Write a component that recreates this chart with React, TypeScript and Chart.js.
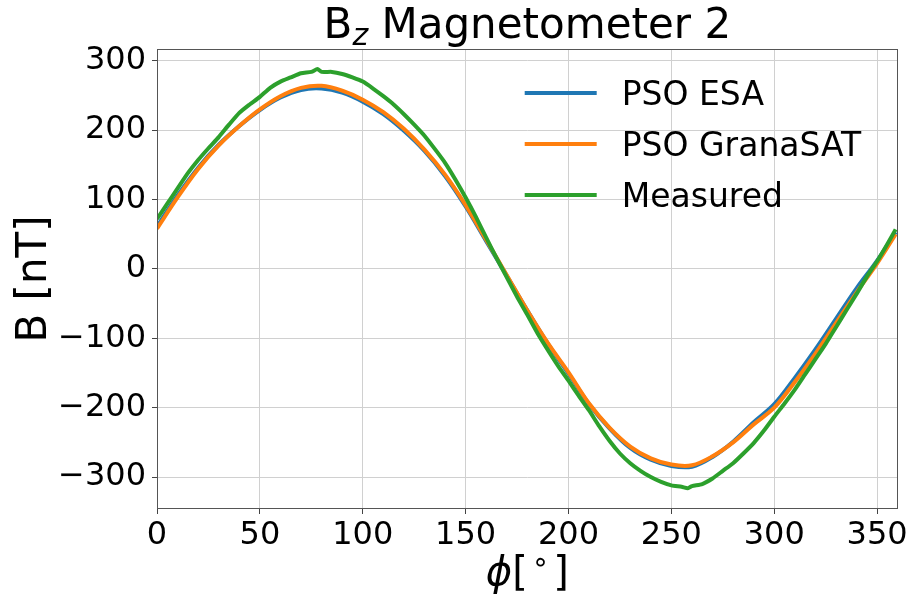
import React, { useEffect, useRef } from "react";
import { Chart, registerables } from "chart.js";

Chart.register(...registerables);

// ---- data ----
const phiModel = [0, 10, 20, 30, 40, 50, 60, 70, 80, 90, 100, 110, 120, 130, 140, 150, 160, 170, 180, 190, 200, 210, 220, 230, 240, 250, 260, 270, 280, 290, 300, 310, 320, 330, 340, 350, 359];
const psoEsa = [61, 106, 146, 179, 206, 229, 247, 258, 260, 254, 241, 223, 199, 170, 134, 90, 40, -10, -60, -108, -151, -195, -230, -258, -275, -284, -285, -271, -249, -221, -195, -157, -116, -72, -28, 12, 53];
const psoGranaSat = [58, 103, 144, 178, 206, 230, 249, 261, 264, 257, 244, 226, 202, 172, 136, 92, 42, -9, -60, -107, -149, -194, -229, -256, -273, -282, -283, -270, -250, -224, -200, -163, -122, -78, -34, 8, 50];
const phiMeasured = [0, 5, 10, 15, 20, 25, 30, 35, 40, 45, 50, 55, 60, 65, 70, 75, 78, 80, 85, 90, 95, 100, 105, 110, 115, 120, 125, 130, 135, 140, 145, 150, 155, 160, 165, 170, 175, 180, 185, 190, 195, 200, 205, 210, 215, 220, 225, 230, 235, 240, 245, 250, 255, 258, 260, 265, 270, 275, 280, 285, 290, 295, 300, 305, 310, 315, 320, 325, 330, 335, 340, 345, 350, 355, 359];
const measured = [72, 94, 116, 138, 157, 174, 190, 208, 225, 237, 248, 261, 270, 276, 282, 284, 288, 284, 284, 281, 276, 270, 260, 249, 237, 223, 208, 192, 173, 153, 129, 103, 75, 45, 16, -12, -40, -66, -93, -117, -140, -161, -183, -204, -227, -248, -266, -280, -291, -300, -307, -312, -314, -316, -313, -310, -302, -291, -280, -266, -251, -233, -213, -194, -174, -152, -130, -108, -84, -60, -36, -11, 11, 36, 57];

const seriesLabels = ["PSO ESA", "PSO GranaSAT", "Measured"];
const seriesColors = ["#1f77b4", "#ff7f0e", "#2ca02c"];
const xTicks = [0, 50, 100, 150, 200, 250, 300, 350];
const yTicks = [-300, -200, -100, 0, 100, 200, 300];
const xRange = [0, 360];
const yRange = [-346, 317];
const titleMain = "B";
const titleSub = "z";
const titleRest = " Magnetometer 2";
const yLabel = "B [nT]";

const FONT = '"DejaVu Sans", "Liberation Sans", sans-serif';

const decorPlugin = {
  id: "decor",
  afterDraw(chart: any) {
    const { ctx, chartArea } = chart;
    const { left, right, top, bottom } = chartArea;
    ctx.save();
    // frame
    ctx.strokeStyle = "#555";
    ctx.lineWidth = 1;
    ctx.strokeRect(Math.round(left) + 0.5, Math.round(top) + 0.5, Math.round(right - left) - 1, Math.round(bottom - top) - 1);

    ctx.fillStyle = "#000";
    ctx.textAlign = "left";
    ctx.textBaseline = "alphabetic";
    // title
    const cx = (left + right) / 2;
    ctx.font = `42px ${FONT}`;
    const wB = ctx.measureText(titleMain).width;
    const wRest = ctx.measureText(titleRest).width;
    ctx.font = `italic 30px ${FONT}`;
    const wZ = ctx.measureText(titleSub).width;
    let tx = cx - (wB + wZ + wRest) / 2;
    const tBase = 38;
    ctx.font = `42px ${FONT}`;
    ctx.fillText(titleMain, tx, tBase);
    tx += wB;
    ctx.font = `italic 30px ${FONT}`;
    ctx.fillText(titleSub, tx, tBase + 7);
    tx += wZ;
    ctx.font = `42px ${FONT}`;
    ctx.fillText(titleRest, tx, tBase);

    // x label: phi[°]
    const xBase = 585;
    ctx.font = `italic 40px ${FONT}`;
    const wPhi = ctx.measureText("\u03D5").width;
    ctx.font = `40px ${FONT}`;
    const wOpen = ctx.measureText("[").width;
    const wClose = ctx.measureText("]").width;
    ctx.font = `28px ${FONT}`;
    const wCirc = ctx.measureText("\u2218").width;
    const gap = 4;
    let lx = cx - (wPhi + wOpen + wCirc + wClose + 2 * gap) / 2;
    ctx.font = `italic 40px ${FONT}`;
    ctx.fillText("\u03D5", lx, xBase);
    lx += wPhi;
    ctx.font = `40px ${FONT}`;
    ctx.fillText("[", lx, xBase);
    lx += wOpen + gap;
    ctx.font = `28px ${FONT}`;
    ctx.fillText("\u2218", lx, xBase - 14);
    lx += wCirc + gap;
    ctx.font = `40px ${FONT}`;
    ctx.fillText("]", lx, xBase);

    // y label
    ctx.save();
    ctx.translate(46, (top + bottom) / 2);
    ctx.rotate(-Math.PI / 2);
    ctx.textAlign = "center";
    ctx.font = `42px ${FONT}`;
    ctx.fillText(yLabel, 0, 0);
    ctx.restore();

    // legend
    const lineX0 = right - 373;
    const lineX1 = right - 301;
    const textX = right - 276;
    const rowY0 = top + 44;
    const rowStep = 51;
    ctx.font = `33px ${FONT}`;
    ctx.textAlign = "left";
    ctx.lineCap = "butt";
    seriesLabels.forEach((lab, i) => {
      const y = rowY0 + i * rowStep;
      ctx.strokeStyle = seriesColors[i];
      ctx.lineWidth = 4;
      ctx.beginPath();
      ctx.moveTo(lineX0, y);
      ctx.lineTo(lineX1, y);
      ctx.stroke();
      ctx.fillStyle = "#000";
      ctx.fillText(lab, textX, y + 12);
    });
    ctx.restore();
  },
};

export default function App() {
  const ref = useRef<HTMLCanvasElement | null>(null);
  useEffect(() => {
    if (!ref.current) return;
    const toPts = (xs: number[], ys: number[]) => xs.map((x, i) => ({ x, y: ys[i] }));
    const chart = new Chart(ref.current, {
      type: "line",
      data: {
        datasets: [
          { label: seriesLabels[0], data: toPts(phiModel, psoEsa), borderColor: seriesColors[0], borderWidth: 4, pointRadius: 0, tension: 0.35, order: 3 },
          { label: seriesLabels[1], data: toPts(phiModel, psoGranaSat), borderColor: seriesColors[1], borderWidth: 4, pointRadius: 0, tension: 0.35, order: 2 },
          { label: seriesLabels[2], data: toPts(phiMeasured, measured), borderColor: seriesColors[2], borderWidth: 4, pointRadius: 0, tension: 0.2, order: 1 },
        ],
      },
      options: {
        responsive: false,
        animation: false,
        devicePixelRatio: 1,
        layout: { padding: { top: 49, right: 12, left: 0, bottom: 0 } },
        plugins: { legend: { display: false }, title: { display: false }, tooltip: { enabled: false } },
        scales: {
          x: {
            type: "linear",
            min: xRange[0],
            max: xRange[1],
            afterBuildTicks: (s: any) => { s.ticks = xTicks.map((v) => ({ value: v })); },
            afterFit: (s: any) => { s.height = 90; },
            border: { display: false },
            grid: { color: "#d0d0d0", lineWidth: 1, tickColor: "#444", tickLength: 5 },
            ticks: { autoSkip: false, maxRotation: 0, padding: 2, color: "#000", font: { family: FONT, size: 32 }, callback: (v: any) => String(v) },
          },
          y: {
            type: "linear",
            min: yRange[0],
            max: yRange[1],
            afterBuildTicks: (s: any) => { s.ticks = yTicks.map((v) => ({ value: v })); },
            afterFit: (s: any) => { s.width = 157; },
            border: { display: false },
            grid: { color: "#d0d0d0", lineWidth: 1, tickColor: "#444", tickLength: 5 },
            ticks: { autoSkip: false, padding: 6, color: "#000", font: { family: FONT, size: 32 }, callback: (v: any) => String(v).replace("-", "\u2212") },
          },
        },
      },
      plugins: [decorPlugin],
    } as any);
    return () => chart.destroy();
  }, []);
  return (
    <div style={{ position: "absolute", left: 0, top: 0, width: 910, height: 599, background: "#fff" }}>
      <canvas ref={ref} width={910} height={599} />
    </div>
  );
}
